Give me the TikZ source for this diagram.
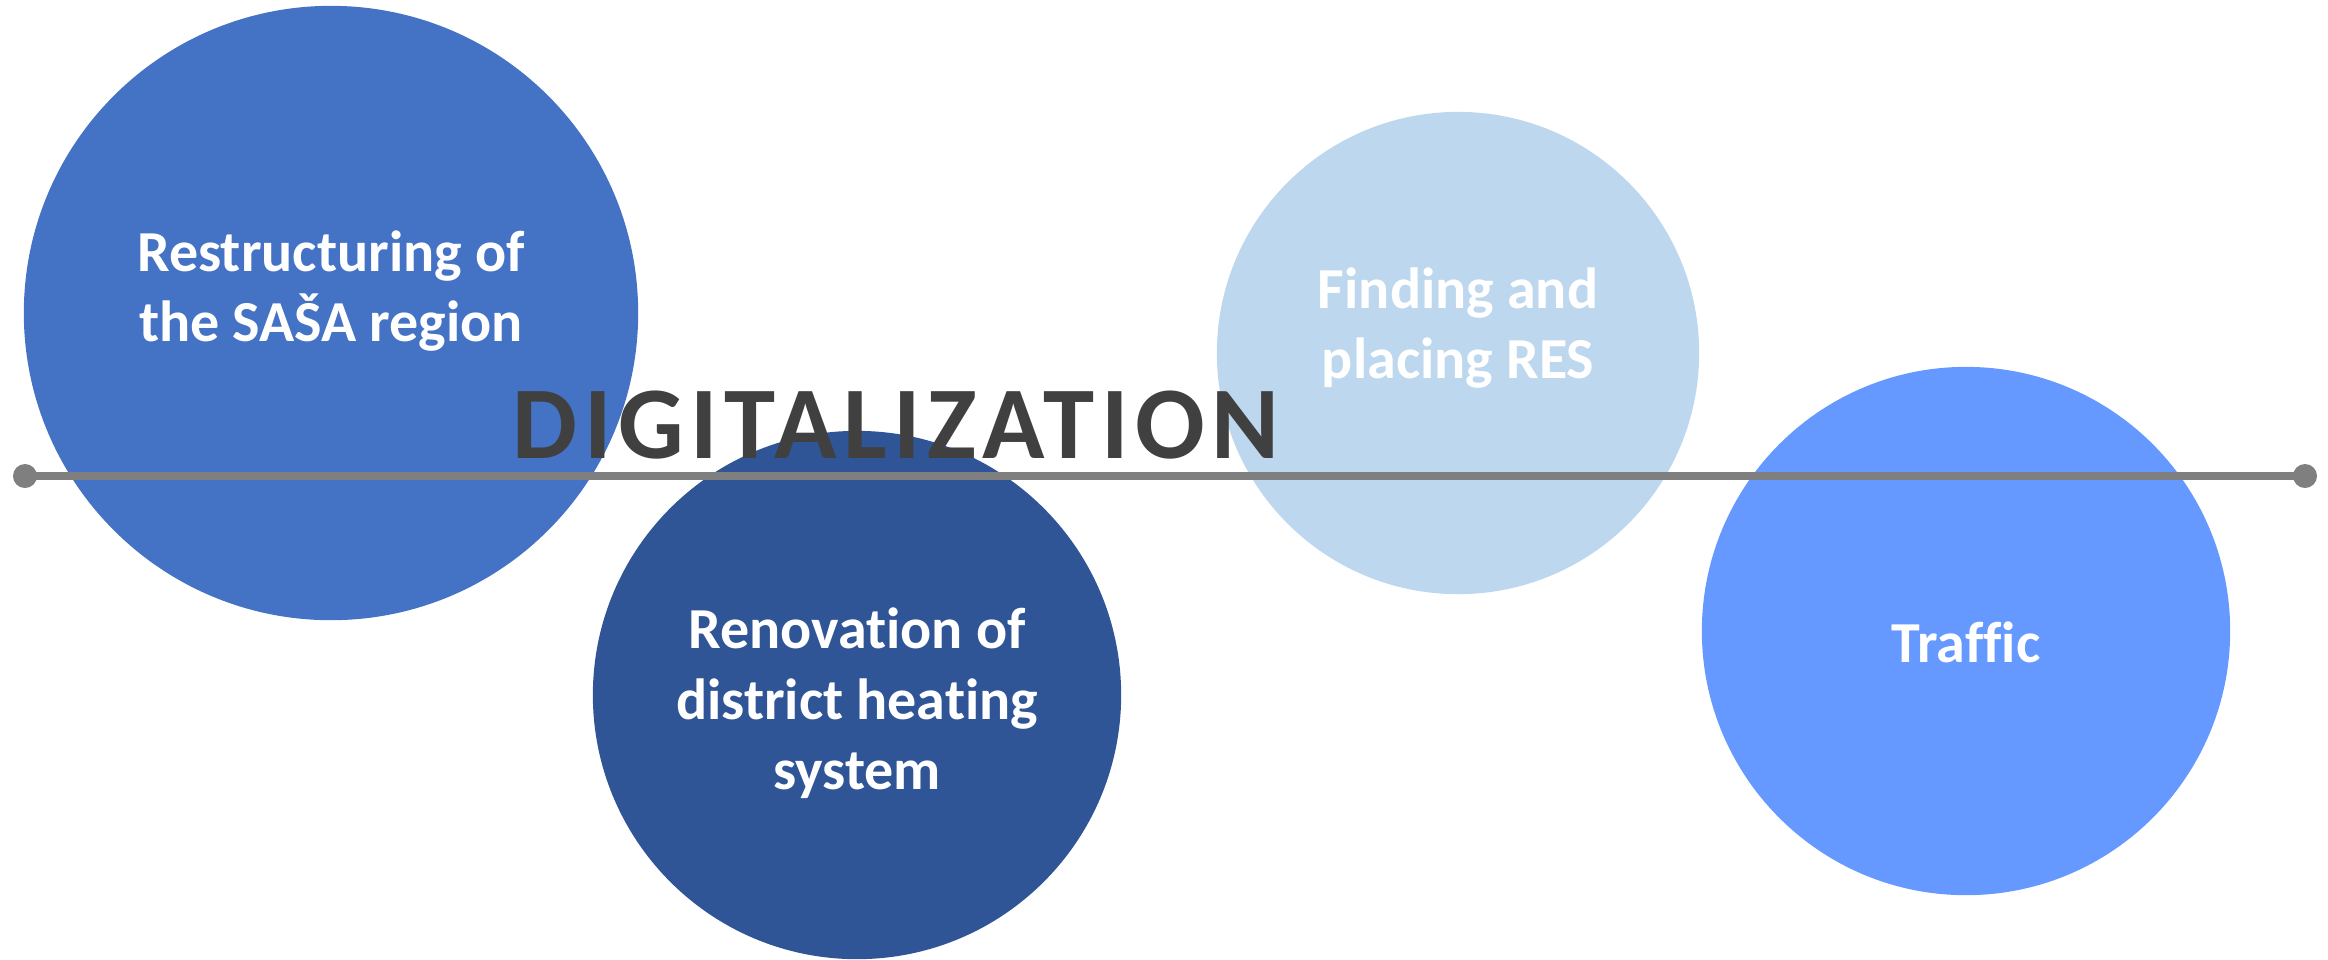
\documentclass[tikz,border=0pt]{standalone}
\usepackage{fontspec}
\setmainfont[Ligatures=NoCommon]{Carlito}
\newfontfamily\titlefont[LetterSpace=6.4,Ligatures=NoCommon]{Carlito}
\definecolor{cA}{HTML}{4472C4}
\definecolor{cB}{HTML}{2F5597}
\definecolor{cC}{HTML}{BDD7EE}
\definecolor{cD}{HTML}{6699FF}
\definecolor{lineg}{HTML}{7F7F7F}
\definecolor{titleg}{HTML}{404040}
\begin{document}
\begin{tikzpicture}[x=0.01cm,y=-0.01cm,
  disc/.style={circle, inner sep=0pt, draw=none},
  lbl/.style={anchor=base, text=white, inner sep=0pt, font=\fontsize{16.5}{19.9}\selectfont\bfseries},
  dotnode/.style={circle, fill=lineg, inner sep=0pt, minimum size=0.24cm},
  axisline/.style={draw=lineg, line width=0.077cm},
  titlestyle/.style={anchor=base, text=titleg, inner sep=0pt, font=\titlefont\fontsize{29.3}{35}\selectfont\bfseries}]
\useasboundingbox (0,0) rectangle (2328,959);
% circles
\node[disc, fill=cA, minimum size=6.14cm] (c1) at (331,313) {};
\node[disc, fill=cB, minimum size=5.28cm] (c2) at (857,695) {};
\node[disc, fill=cC, minimum size=4.82cm] (c3) at (1458,353) {};
\node[disc, fill=cD, minimum size=5.28cm] (c4) at (1966,631) {};
% labels
\node[lbl] (t1a) at (331,271) {Restructuring of};
\node[lbl] (t1b) at (331,341) {the SAŠA region};
\node[lbl] (t2a) at (857,648) {Renovation of};
\node[lbl] (t2b) at (857,719) {district heating};
\node[lbl] (t2c) at (857,789) {system};
\node[lbl] (t3a) at (1458,308) {Finding and};
\node[lbl] (t3b) at (1458,378) {placing RES};
\node[lbl] (t4a) at (1966,662) {Traffic};
% axis line
\node[dotnode] (L) at (25,476) {};
\node[dotnode] (R) at (2305,476) {};
\draw[axisline] (L.center) -- (R.center);
% title
\node[titlestyle] (title) at (896,458) {DIGITALIZATION};
\end{tikzpicture}
\end{document}
